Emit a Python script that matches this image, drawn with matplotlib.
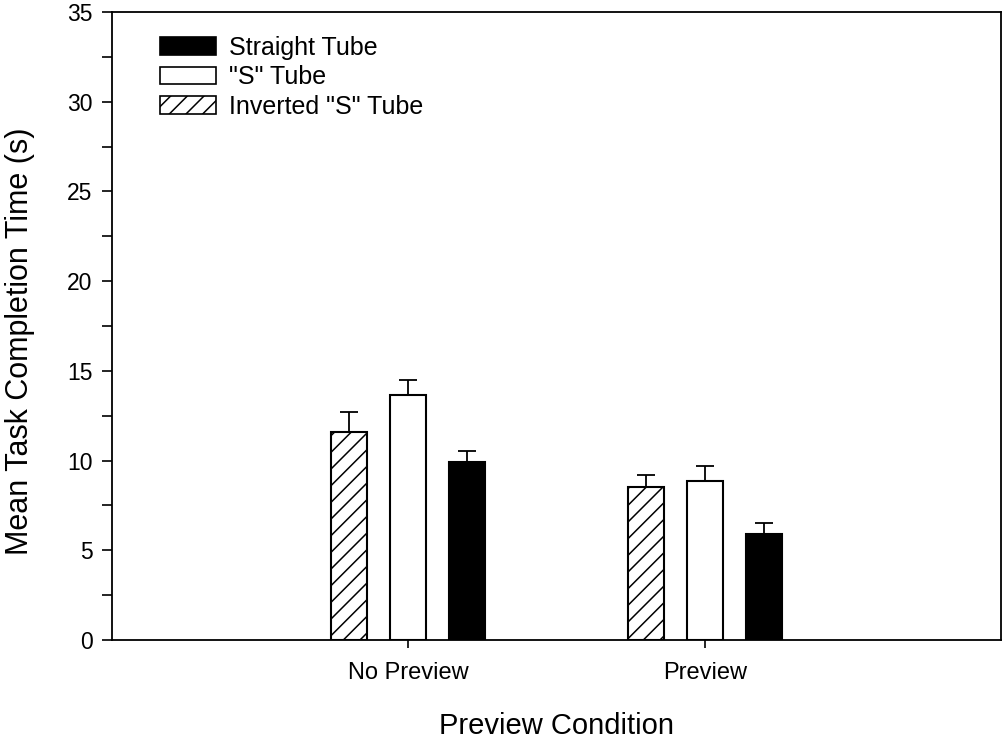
import numpy as np
import matplotlib
matplotlib.use("Agg")
import matplotlib.pyplot as plt
from matplotlib.patches import Patch
from matplotlib.ticker import MultipleLocator

plt.rcParams['font.family'] = ['Liberation Sans', 'DejaVu Sans']
plt.rcParams['hatch.linewidth'] = 1.1

# mean completion times and standard errors
conditions = ["No Preview", "Preview"]
inverted_mean = [11.6, 8.55]
inverted_err = [1.13, 0.67]
s_mean = [13.64, 8.88]
s_err = [0.85, 0.82]
straight_mean = [9.9, 5.89]
straight_err = [0.62, 0.65]

fig = plt.figure(figsize=(10.04, 7.39), dpi=100)
ax = fig.add_axes([112 / 1004, 1 - 640 / 739, 889 / 1004, 628 / 739])

x = np.arange(len(conditions))
w = 0.121
off = 0.199
ekw = dict(ecolor='black', elinewidth=1.3, capthick=1.3)

ax.bar(x - off, inverted_mean, w, color='white', edgecolor='black', hatch='//', linewidth=1.5,
       yerr=[np.zeros(2), inverted_err], capsize=6.8, error_kw=ekw)
ax.bar(x, s_mean, w, color='white', edgecolor='black', linewidth=1.5,
       yerr=[np.zeros(2), s_err], capsize=6.8, error_kw=ekw)
ax.bar(x + off, straight_mean, w, color='black', edgecolor='black', linewidth=1.5,
       yerr=[np.zeros(2), straight_err], capsize=6.8, error_kw=ekw)

ax.set_xlim(-1, 2)
ax.set_ylim(0, 35)
ax.set_xticks(x)
ax.set_xticklabels(conditions, fontsize=17)
ax.yaxis.set_major_locator(MultipleLocator(5))
ax.yaxis.set_minor_locator(MultipleLocator(2.5))
ax.tick_params(axis='y', labelsize=16.5, length=7, width=1.2, direction='out', pad=7)
ax.tick_params(axis='y', which='minor', length=7, width=1.2)
ax.tick_params(axis='x', length=6, width=1.2, direction='out', pad=10)
for s in ax.spines.values():
    s.set_linewidth(1.3)

ax.set_ylabel("Mean Task Completion Time (s)", fontsize=22, labelpad=23, y=0.476)
ax.set_xlabel("Preview Condition", fontsize=21, labelpad=20)

handles = [
    Patch(facecolor='black', edgecolor='black', linewidth=1.2, label='Straight Tube'),
    Patch(facecolor='white', edgecolor='black', linewidth=1.2, label='"S" Tube'),
    Patch(facecolor='white', edgecolor='black', linewidth=1.2, hatch='//', label='Inverted "S" Tube'),
]
ax.legend(handles=handles, loc='upper left', bbox_to_anchor=(0.054, 0.962), frameon=False,
          fontsize=18, handlelength=2.25, handleheight=0.7, labelspacing=0.22,
          handletextpad=0.5, borderaxespad=0, borderpad=0)

fig.savefig("out.png", dpi=100)
